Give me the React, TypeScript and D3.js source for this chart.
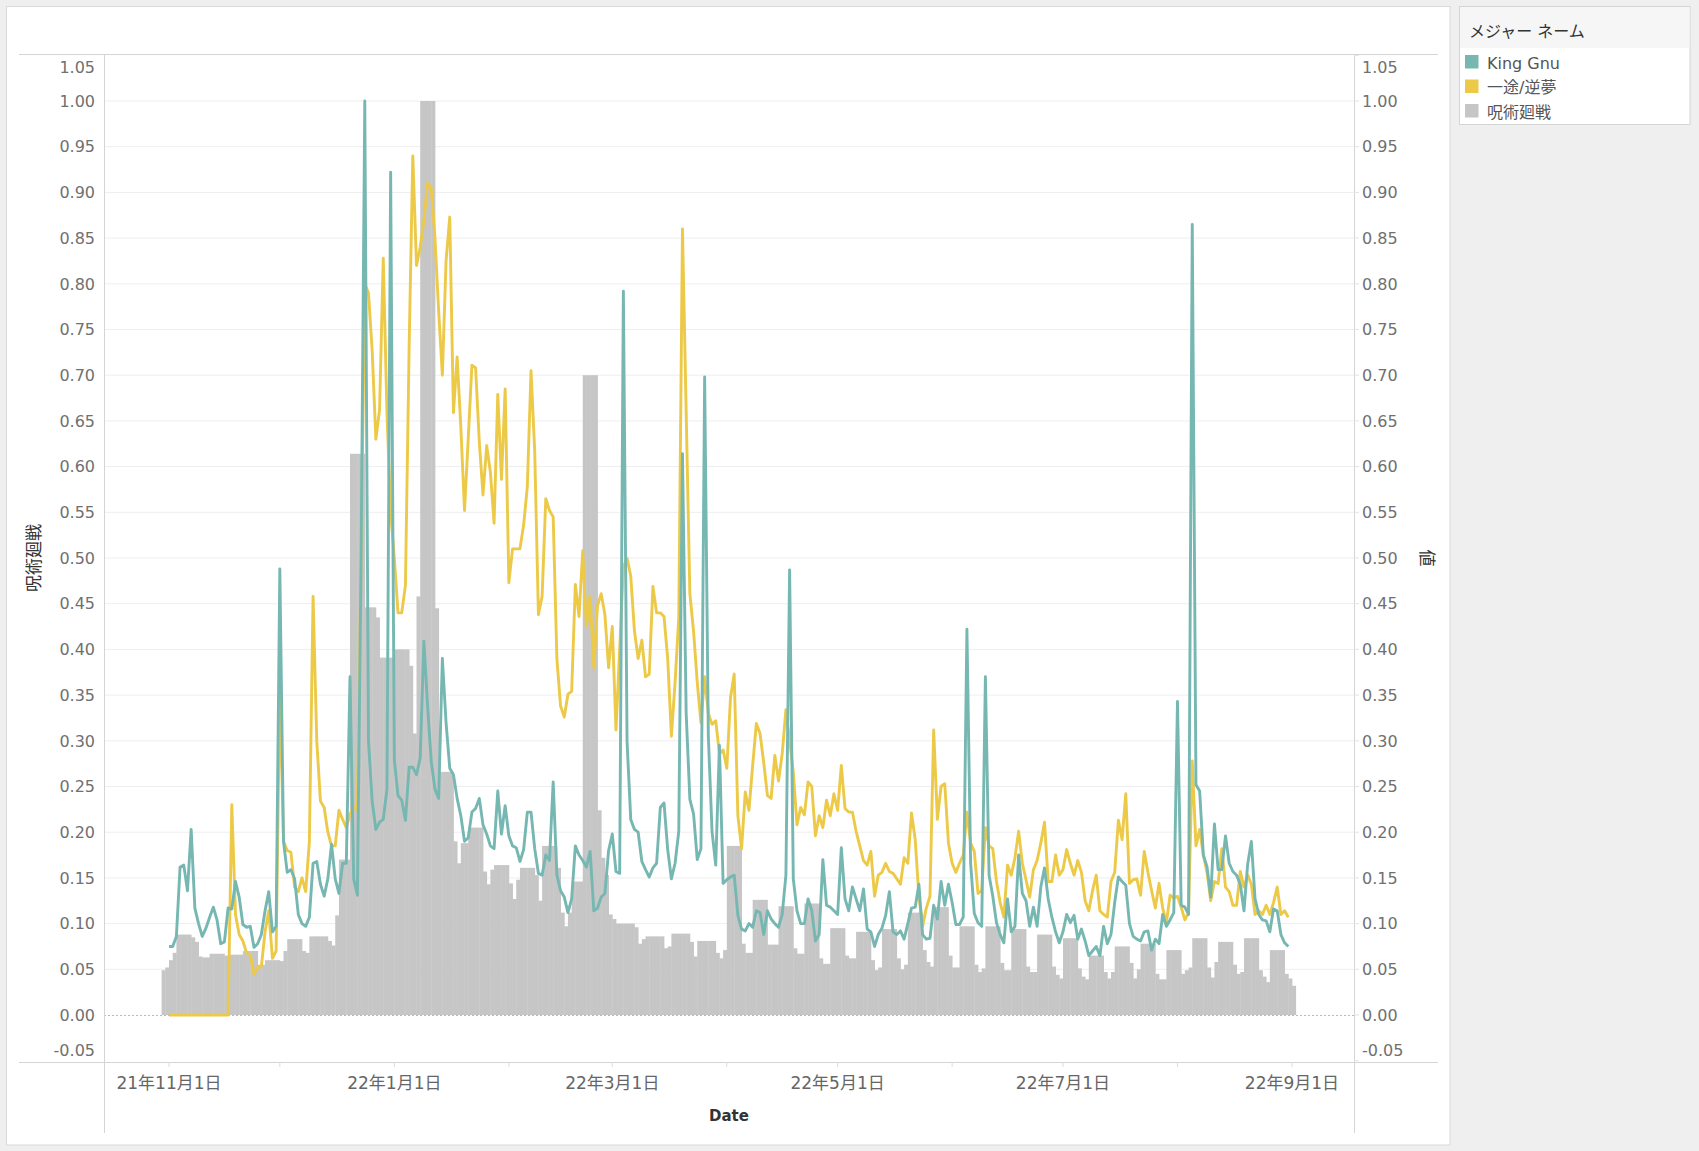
import React from 'react';
import * as d3 from 'd3';

const W = 1699;
const H = 1151;

// 呪術廻戦 bars: daily, first bar on 2021-10-30
const barStartDate = new Date(Date.UTC(2021, 9, 30));
const jujutsuKaisen = [
  0.049,0.052,0.060,0.068,0.088,0.088,0.088,0.088,0.085,0.080,
  0.064,0.063,0.063,0.067,0.067,0.067,0.067,0.065,0.066,0.066,
  0.066,0.066,0.070,0.070,0.070,0.070,0.055,0.055,0.060,0.060,
  0.060,0.060,0.059,0.070,0.083,0.083,0.083,0.083,0.070,0.068,
  0.086,0.086,0.086,0.086,0.086,0.081,0.076,0.109,0.170,0.170,
  0.170,0.614,0.614,0.614,0.614,0.446,0.446,0.446,0.435,0.391,
  0.391,0.391,0.391,0.400,0.400,0.400,0.400,0.382,0.308,0.458,
  1.000,1.000,1.000,1.000,0.445,0.266,0.266,0.266,0.266,0.190,
  0.166,0.188,0.188,0.205,0.205,0.205,0.205,0.157,0.143,0.159,
  0.164,0.164,0.164,0.164,0.144,0.127,0.148,0.161,0.161,0.161,
  0.161,0.153,0.125,0.185,0.185,0.185,0.185,0.161,0.112,0.097,
  0.112,0.146,0.146,0.146,0.700,0.700,0.700,0.700,0.224,0.172,
  0.153,0.110,0.105,0.100,0.100,0.100,0.100,0.100,0.096,0.078,
  0.083,0.086,0.086,0.086,0.086,0.086,0.073,0.075,0.089,0.089,
  0.089,0.089,0.089,0.080,0.064,0.081,0.081,0.081,0.081,0.081,
  0.068,0.062,0.071,0.185,0.185,0.185,0.185,0.078,0.068,0.068,
  0.126,0.126,0.126,0.126,0.077,0.077,0.077,0.119,0.119,0.119,
  0.119,0.073,0.067,0.067,0.122,0.122,0.122,0.122,0.062,0.056,
  0.056,0.095,0.095,0.095,0.095,0.065,0.062,0.062,0.091,0.091,
  0.091,0.091,0.060,0.049,0.052,0.094,0.094,0.094,0.094,0.062,
  0.050,0.055,0.112,0.112,0.112,0.112,0.071,0.058,0.053,0.118,
  0.118,0.118,0.118,0.065,0.052,0.052,0.097,0.097,0.097,0.097,
  0.055,0.047,0.051,0.097,0.097,0.097,0.097,0.057,0.049,0.049,
  0.094,0.094,0.094,0.094,0.053,0.047,0.047,0.088,0.088,0.088,
  0.088,0.053,0.044,0.040,0.084,0.084,0.084,0.084,0.051,0.042,
  0.039,0.065,0.065,0.065,0.065,0.047,0.040,0.047,0.075,0.075,
  0.075,0.075,0.057,0.040,0.050,0.078,0.078,0.078,0.078,0.045,
  0.039,0.039,0.071,0.071,0.071,0.071,0.045,0.049,0.052,0.084,
  0.084,0.084,0.084,0.052,0.041,0.058,0.080,0.080,0.080,0.080,
  0.055,0.045,0.047,0.084,0.084,0.084,0.084,0.049,0.042,0.036,
  0.071,0.071,0.071,0.071,0.045,0.040,0.032,
];

// line series: daily, first point on 2021-11-01
const lineStartDate = new Date(Date.UTC(2021, 10, 1));
const kingGnu = [
  0.075,0.075,0.086,0.162,0.164,0.136,0.203,0.117,0.100,0.086,
  0.095,0.107,0.118,0.104,0.078,0.080,0.117,0.116,0.146,0.129,
  0.099,0.096,0.097,0.074,0.078,0.088,0.114,0.135,0.091,0.097,
  0.488,0.190,0.156,0.159,0.149,0.110,0.100,0.097,0.107,0.166,
  0.168,0.143,0.130,0.149,0.187,0.149,0.133,0.166,0.166,0.370,
  0.149,0.131,0.500,1.000,0.300,0.234,0.203,0.211,0.214,0.247,
  0.922,0.279,0.240,0.235,0.213,0.271,0.271,0.263,0.281,0.409,
  0.338,0.277,0.247,0.237,0.390,0.320,0.270,0.263,0.237,0.218,
  0.190,0.194,0.222,0.226,0.237,0.208,0.198,0.185,0.182,0.245,
  0.198,0.229,0.196,0.185,0.183,0.168,0.181,0.222,0.222,0.182,
  0.155,0.153,0.175,0.169,0.255,0.153,0.136,0.129,0.112,0.127,
  0.185,0.175,0.169,0.162,0.179,0.114,0.117,0.129,0.133,0.180,
  0.198,0.157,0.155,0.792,0.299,0.214,0.203,0.200,0.168,0.159,
  0.151,0.161,0.166,0.227,0.232,0.181,0.149,0.166,0.201,0.614,
  0.330,0.236,0.220,0.170,0.182,0.698,0.305,0.201,0.164,0.295,
  0.144,0.148,0.151,0.153,0.109,0.094,0.092,0.100,0.096,0.114,
  0.112,0.088,0.114,0.105,0.100,0.096,0.110,0.153,0.487,0.149,
  0.114,0.100,0.100,0.127,0.114,0.081,0.088,0.170,0.120,0.118,
  0.114,0.110,0.183,0.127,0.114,0.140,0.127,0.114,0.138,0.094,
  0.091,0.075,0.088,0.095,0.109,0.135,0.091,0.088,0.092,0.083,
  0.100,0.117,0.118,0.143,0.088,0.083,0.084,0.120,0.105,0.146,
  0.120,0.143,0.123,0.099,0.099,0.107,0.422,0.166,0.111,0.101,
  0.097,0.370,0.153,0.130,0.101,0.088,0.079,0.127,0.091,0.097,
  0.175,0.133,0.125,0.097,0.118,0.097,0.140,0.161,0.127,0.107,
  0.091,0.079,0.091,0.110,0.101,0.109,0.083,0.094,0.081,0.065,
  0.070,0.075,0.065,0.097,0.078,0.088,0.123,0.151,0.146,0.142,
  0.100,0.086,0.083,0.081,0.091,0.092,0.071,0.083,0.078,0.110,
  0.097,0.104,0.112,0.343,0.120,0.118,0.110,0.865,0.252,0.245,
  0.175,0.162,0.129,0.209,0.159,0.159,0.196,0.166,0.157,0.153,
  0.143,0.114,0.165,0.190,0.127,0.110,0.104,0.103,0.091,0.116,
  0.114,0.088,0.079,0.075,
];

const ittoGyakumu = [
  0,0,0,0,0,0,0,0,0,0,
  0,0,0,0,0,0,0,0.230,0.110,0.088,
  0.081,0.068,0.065,0.045,0.052,0.053,0.091,0.114,0.062,0.070,
  0.360,0.190,0.180,0.178,0.140,0.135,0.150,0.135,0.190,0.458,
  0.300,0.234,0.227,0.200,0.185,0.185,0.224,0.214,0.205,0.220,
  0.227,0.224,0.500,0.800,0.790,0.727,0.630,0.662,0.828,0.659,
  0.550,0.500,0.440,0.440,0.470,0.730,0.940,0.820,0.840,0.870,
  0.910,0.905,0.850,0.770,0.700,0.825,0.873,0.659,0.720,0.643,
  0.552,0.630,0.711,0.708,0.627,0.569,0.623,0.594,0.538,0.679,
  0.586,0.685,0.473,0.510,0.510,0.510,0.536,0.578,0.705,0.617,
  0.438,0.458,0.565,0.552,0.545,0.390,0.338,0.326,0.351,0.354,
  0.471,0.436,0.508,0.425,0.458,0.380,0.448,0.461,0.438,0.380,
  0.425,0.312,0.400,0.490,0.500,0.480,0.420,0.390,0.410,0.370,
  0.373,0.469,0.440,0.440,0.436,0.390,0.305,0.364,0.435,0.860,
  0.660,0.461,0.420,0.364,0.320,0.370,0.330,0.318,0.322,0.286,
  0.290,0.270,0.347,0.373,0.218,0.182,0.244,0.224,0.273,0.319,
  0.308,0.276,0.240,0.237,0.284,0.256,0.286,0.334,0.300,0.266,
  0.208,0.227,0.219,0.255,0.250,0.196,0.218,0.205,0.235,0.218,
  0.242,0.224,0.273,0.226,0.222,0.222,0.201,0.185,0.169,0.164,
  0.179,0.130,0.153,0.156,0.166,0.157,0.155,0.149,0.143,0.172,
  0.166,0.221,0.192,0.130,0.097,0.117,0.130,0.312,0.214,0.250,
  0.253,0.188,0.166,0.156,0.166,0.175,0.222,0.188,0.179,0.133,
  0.136,0.205,0.185,0.182,0.146,0.123,0.107,0.164,0.153,0.172,
  0.201,0.166,0.148,0.129,0.159,0.169,0.188,0.211,0.146,0.146,
  0.175,0.153,0.159,0.181,0.166,0.153,0.169,0.156,0.125,0.114,
  0.136,0.153,0.114,0.110,0.107,0.146,0.156,0.213,0.192,0.242,
  0.144,0.148,0.149,0.131,0.179,0.156,0.136,0.117,0.144,0.117,
  0.101,0.131,0.128,0.130,0.118,0.104,0.112,0.278,0.185,0.203,
  0.175,0.156,0.125,0.146,0.144,0.182,0.140,0.135,0.120,0.120,
  0.157,0.140,0.153,0.143,0.110,0.114,0.110,0.120,0.110,0.123,
  0.140,0.110,0.114,0.107,
];

const yTicks = [-0.05, 0, 0.05, 0.1, 0.15, 0.2, 0.25, 0.3, 0.35, 0.4, 0.45, 0.5, 0.55, 0.6, 0.65, 0.7, 0.75, 0.8, 0.85, 0.9, 0.95, 1.0, 1.05];
const yTickLabels = ['-0.05', '0.00', '0.05', '0.10', '0.15', '0.20', '0.25', '0.30', '0.35', '0.40', '0.45', '0.50', '0.55', '0.60', '0.65', '0.70', '0.75', '0.80', '0.85', '0.90', '0.95', '1.00', '1.05'];

const monthTicks = [
  [2021, 10], [2021, 11], [2022, 0], [2022, 1], [2022, 2], [2022, 3],
  [2022, 4], [2022, 5], [2022, 6], [2022, 7], [2022, 8],
];
const dateLabelDates = [[2021, 10], [2022, 0], [2022, 2], [2022, 4], [2022, 6], [2022, 8]];
const dateLabels = ['21年11月1日', '22年1月1日', '22年3月1日', '22年5月1日', '22年7月1日', '22年9月1日'];

const seriesNames = ['King Gnu', '一途/逆夢', '呪術廻戦'];
const seriesColors = ['#76b7b2', '#edc948', '#c6c6c6'];

const DAY = 86400000;
const dateAt = (start: Date, i: number) => new Date(start.getTime() + i * DAY);

export default function App() {
  const x = d3
    .scaleUtc()
    .domain([new Date(Date.UTC(2021, 10, 1)), new Date(Date.UTC(2022, 8, 1))])
    .range([169, 1292]);
  const y = d3.scaleLinear().domain([0, 1]).range([1015, 101]);

  const plotL = 104;
  const plotR = 1354;
  const plotT = 55;
  const plotB = 1062;

  const line = d3
    .line<number>()
    .x((_, i) => x(dateAt(lineStartDate, i)))
    .y((v) => y(v));

  const numFont = '"DejaVu Sans", "Noto Sans CJK JP", sans-serif';
  const jpFont = '"DejaVu Sans", "Noto Sans CJK JP", sans-serif';

  const labelY = (t: number) => {
    const p = y(t);
    return Math.min(Math.max(p, plotT + 12), plotB - 12);
  };

  return (
    <svg width={W} height={H} style={{ position: 'absolute', left: 0, top: 0, display: 'block' }}>
      <rect x={0} y={0} width={W} height={H} fill="#efefef" />
      <rect x={6.5} y={6.5} width={1443.5} height={1138.5} fill="#ffffff" stroke="#d9d9d9" />

      {/* gridlines */}
      {yTicks.filter((t) => t > 0.001 && t < 1.04).map((t) => (
        <line key={'g' + t} x1={plotL} x2={plotR} y1={y(t)} y2={y(t)} stroke="#eeeeee" strokeWidth={1} />
      ))}

      {/* bars */}
      {jujutsuKaisen.map((v, i) => {
        const x0 = x(dateAt(barStartDate, i));
        const x1 = x(dateAt(barStartDate, i + 1));
        return (
          <rect
            key={'b' + i}
            x={x0}
            y={y(v)}
            width={x1 - x0 + 0.4}
            height={y(0) - y(v)}
            fill={seriesColors[2]}
          />
        );
      })}

      {/* zero line */}
      <line x1={plotL} x2={plotR} y1={y(0) + 0.5} y2={y(0) + 0.5} stroke="#b8b8b8" strokeWidth={1} strokeDasharray="2,2" />

      {/* lines */}
      <path d={line(ittoGyakumu) || ''} fill="none" stroke={seriesColors[1]} strokeWidth={2.9} strokeLinejoin="round" />
      <path d={line(kingGnu) || ''} fill="none" stroke={seriesColors[0]} strokeWidth={2.9} strokeLinejoin="round" />

      {/* frame lines */}
      <line x1={19} x2={1438} y1={54.5} y2={54.5} stroke="#d4d4d4" />
      <line x1={19} x2={1438} y1={1062.5} y2={1062.5} stroke="#d4d4d4" />
      <line x1={104.5} x2={104.5} y1={54} y2={1133} stroke="#d4d4d4" />
      <line x1={1354.5} x2={1354.5} y1={54} y2={1133} stroke="#d4d4d4" />

      {/* y tick labels */}
      {yTicks.map((t, i) => (
        <g key={'yl' + i}>
          <text x={95} y={labelY(t)} dy="0.36em" textAnchor="end" fontFamily={numFont} fontSize={16} fill="#707070">
            {yTickLabels[i]}
          </text>
          <line x1={1354} x2={1359} y1={y(t)} y2={y(t)} stroke="#e2e2e2" />
          <text x={1362} y={labelY(t)} dy="0.36em" textAnchor="start" fontFamily={numFont} fontSize={16} fill="#707070">
            {yTickLabels[i]}
          </text>
        </g>
      ))}

      {/* x ticks */}
      {monthTicks.map(([yy, mm], i) => {
        const px = x(new Date(Date.UTC(yy, mm, 1)));
        return <line key={'mt' + i} x1={px} x2={px} y1={1062} y2={1067} stroke="#dddddd" />;
      })}
      {dateLabelDates.map(([yy, mm], i) => (
        <text
          key={'xl' + i}
          x={x(new Date(Date.UTC(yy, mm, 1)))}
          y={1089}
          textAnchor="middle"
          fontFamily={jpFont}
          fontSize={17}
          fill="#666666"
        >
          {dateLabels[i]}
        </text>
      ))}

      {/* axis titles */}
      <text x={729} y={1121} textAnchor="middle" fontFamily={numFont} fontSize={15} fontWeight="bold" fill="#333333">
        Date
      </text>
      <text
        transform={`translate(40,558) rotate(-90)`}
        textAnchor="middle"
        fontFamily={jpFont}
        fontSize={17}
        fill="#333333"
      >
        呪術廻戦
      </text>
      <text
        transform={`translate(1421,558) rotate(90)`}
        textAnchor="middle"
        fontFamily={jpFont}
        fontSize={17}
        fill="#333333"
      >
        値
      </text>

      {/* legend */}
      <rect x={1459.5} y={6.5} width={230.5} height={118} fill="#ffffff" stroke="#d4d4d4" />
      <rect x={1460} y={7} width={229.5} height={41} fill="#f6f6f6" />
      <text x={1469} y={36.5} fontFamily={jpFont} fontSize={16} fill="#333333">
        メジャー ネーム
      </text>
      {seriesNames.map((name, i) => (
        <g key={'lg' + i}>
          <rect x={1465} y={55 + i * 24.5} width={13.5} height={13.5} fill={seriesColors[i]} />
          <text x={1487} y={68.5 + i * 24.5} fontFamily={jpFont} fontSize={16} fill="#555555">
            {name}
          </text>
        </g>
      ))}
    </svg>
  );
}
